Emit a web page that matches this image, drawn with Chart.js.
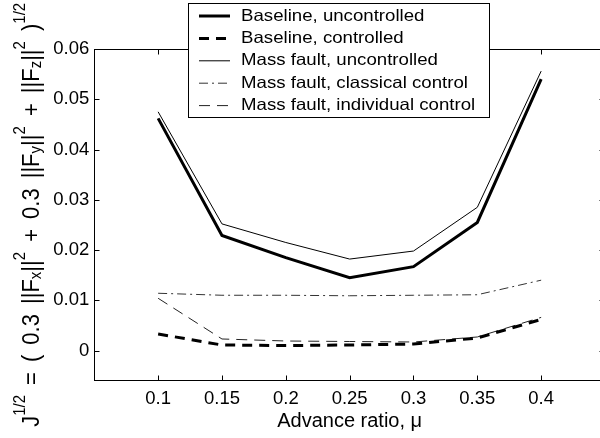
<!DOCTYPE html>
<html>
<head>
<meta charset="utf-8">
<script src="https://cdn.jsdelivr.net/npm/chart.js@4.4.1/dist/chart.umd.min.js"></script>
<style>
html, body { margin: 0; padding: 0; background: #fff; overflow: hidden; }
#wrap { width: 612px; height: 438px; }
</style>
</head>
<body>
<div id="wrap"><canvas id="faultChart" width="612" height="438"></canvas></div>
<script>
// advance ratio values and the five cost curves
var mu = [0.1, 0.15, 0.2, 0.25, 0.3, 0.35, 0.4];
var baseUncontrolled  = [0.0462, 0.0229, 0.0185, 0.0145, 0.0167, 0.0255, 0.0540];
var baseControlled    = [0.0033, 0.0011, 0.0010, 0.0011, 0.0013, 0.0025, 0.0062];
var faultUncontrolled = [0.0475, 0.0252, 0.0215, 0.0182, 0.0198, 0.0285, 0.0556];
var faultClassical    = [0.0114, 0.0110, 0.0110, 0.0109, 0.0110, 0.0111, 0.0140];
var faultIndividual   = [0.0104, 0.0023, 0.0019, 0.0018, 0.0017, 0.0027, 0.0066];

var xTicks = [0.1, 0.15, 0.2, 0.25, 0.3, 0.35, 0.4];
var yTicks = [0, 0.01, 0.02, 0.03, 0.04, 0.05, 0.06];

var seriesNames = [
    'Baseline, uncontrolled',
    'Baseline, controlled',
    'Mass fault, uncontrolled',
    'Mass fault, classical control',
    'Mass fault, individual control'
];

// y label, split into normal / superscript / subscript pieces
var yTitleParts = [
    ['J', 'n'], ['1/2', 'sup'], [' = ( 0.3 ||F', 'n'], ['x', 'sub'], ['||', 'n'], ['2', 'sup'],
    [' + 0.3 ||F', 'n'], ['y', 'sub'], ['||', 'n'], ['2', 'sup'],
    [' + ||F', 'n'], ['z', 'sub'], ['||', 'n'], ['2', 'sup'], [' )', 'n'], ['1/2', 'sup']
];

var FONT = '"Liberation Sans", Arial, Helvetica, sans-serif';

function toPoints(ys) {
    return mu.map(function (x, i) { return { x: x, y: ys[i] }; });
}

function fmt(v) {
    return Number(v.toFixed(4)).toString();
}

var framePlugin = {
    id: 'matlabFrame',
    afterDraw: function (chart) {
        var ctx = chart.ctx;
        var a = chart.chartArea;
        var xs = chart.scales.x, ys = chart.scales.y;
        var l = Math.round(a.left) + 0.5, r = Math.round(a.right) - 0.5;
        var t = Math.round(a.top) + 0.5, b = Math.round(a.bottom) - 0.5;

        ctx.save();
        ctx.strokeStyle = '#000';
        ctx.lineWidth = 1;
        ctx.setLineDash([]);
        ctx.strokeRect(l, t, r - l, b - t);

        // inward ticks on all four sides
        ctx.beginPath();
        yTicks.forEach(function (v) {
            var py = Math.round(ys.getPixelForValue(v)) + 0.5;
            ctx.moveTo(l, py); ctx.lineTo(l + 5, py);
            ctx.moveTo(r, py); ctx.lineTo(r - 5, py);
        });
        xTicks.forEach(function (v) {
            var px = Math.round(xs.getPixelForValue(v)) + 0.5;
            ctx.moveTo(px, b); ctx.lineTo(px, b - 5);
            ctx.moveTo(px, t); ctx.lineTo(px, t + 5);
        });
        ctx.stroke();

        // rotated y title with sub/superscripts
        var size = 22, small = 15;
        var pieces = [];
        var total = 0, spaces = 0;
        yTitleParts.forEach(function (p) {
            var f = (p[1] === 'n' ? size : small) + 'px ' + FONT;
            ctx.font = f;
            p[0].split('').forEach(function (ch) {
                var w = ctx.measureText(ch).width;
                pieces.push({ ch: ch, kind: p[1], font: f, w: w });
                total += w;
                if (ch === ' ') spaces++;
            });
        });
        var target = 424;
        var extra = spaces ? Math.max(0, (target - total) / spaces) : 0;
        ctx.translate(38.5, (a.top + a.bottom) / 2);
        ctx.rotate(-Math.PI / 2);
        ctx.scale(1, 1.1);
        ctx.fillStyle = '#000';
        ctx.textBaseline = 'alphabetic';
        ctx.textAlign = 'left';
        var cx = -(total + extra * spaces) / 2;
        pieces.forEach(function (pc) {
            ctx.font = pc.font;
            var dy = 0;
            if (pc.kind === 'sup') dy = -12;
            if (pc.kind === 'sub') dy = 2.5;
            ctx.fillText(pc.ch, cx, dy);
            cx += pc.w + (pc.ch === ' ' ? extra : 0);
        });
        ctx.restore();

        // legend box in the top middle
        var box = { x: 188.5, y: 3.5, w: 301, h: 114 };
        ctx.save();
        ctx.fillStyle = '#fff';
        ctx.fillRect(box.x, box.y, box.w, box.h);
        ctx.strokeStyle = '#000';
        ctx.lineWidth = 1;
        ctx.strokeRect(box.x, box.y, box.w, box.h);
        chart.data.datasets.forEach(function (ds, i) {
            var ry = 16 + i * 22.4;
            ctx.save();
            ctx.strokeStyle = ds.borderColor;
            ctx.lineWidth = ds.borderWidth;
            ctx.setLineDash(ds.borderDash || []);
            ctx.beginPath();
            ctx.moveTo(199, ry);
            ctx.lineTo(230, ry);
            ctx.stroke();
            ctx.restore();

            ctx.save();
            ctx.fillStyle = '#000';
            ctx.font = '16.5px ' + FONT;
            ctx.textBaseline = 'middle';
            ctx.textAlign = 'left';
            ctx.translate(241, ry);
            ctx.scale(1.13, 1);
            ctx.fillText(ds.label, 0, 0);
            ctx.restore();
        });
        ctx.restore();
    }
};

var ctx = document.getElementById('faultChart').getContext('2d');
var faultChart = new Chart(ctx, {
    type: 'line',
    data: {
        datasets: [{
            label: seriesNames[0],
            data: toPoints(baseUncontrolled),
            borderColor: '#000',
            borderWidth: 3
        }, {
            label: seriesNames[1],
            data: toPoints(baseControlled),
            borderColor: '#000',
            borderWidth: 3,
            borderDash: [10, 7]
        }, {
            label: seriesNames[2],
            data: toPoints(faultUncontrolled),
            borderColor: '#000',
            borderWidth: 1
        }, {
            label: seriesNames[3],
            data: toPoints(faultClassical),
            borderColor: '#333',
            borderWidth: 1,
            borderDash: [9, 4, 2, 4]
        }, {
            label: seriesNames[4],
            data: toPoints(faultIndividual),
            borderColor: '#222',
            borderWidth: 1,
            borderDash: [11, 7]
        }]
    },
    options: {
        responsive: false,
        animation: false,
        layout: { padding: { top: 49, right: 7, left: 0, bottom: 0 } },
        elements: {
            point: { radius: 0, hoverRadius: 0 },
            line: { tension: 0, fill: false, borderCapStyle: 'butt' }
        },
        plugins: {
            legend: { display: false },
            tooltip: { enabled: false }
        },
        scales: {
            x: {
                type: 'linear',
                min: 0.05,
                max: 0.45,
                grid: { display: false, drawTicks: false },
                border: { display: false },
                afterBuildTicks: function (axis) {
                    axis.ticks = xTicks.map(function (v) { return { value: v }; });
                },
                afterFit: function (axis) { axis.height = 57.3; },
                ticks: {
                    color: '#000',
                    padding: 7,
                    maxRotation: 0,
                    font: { family: FONT, size: 18.5 },
                    callback: function (v) { return fmt(v); }
                },
                title: {
                    display: true,
                    text: 'Advance ratio, μ',
                    color: '#000',
                    font: { family: FONT, size: 20 },
                    padding: { top: 0, bottom: 4.5 }
                }
            },
            y: {
                min: -0.006,
                max: 0.06,
                grid: { display: false, drawTicks: false },
                border: { display: false },
                afterBuildTicks: function (axis) {
                    axis.ticks = yTicks.map(function (v) { return { value: v }; });
                },
                afterFit: function (axis) { axis.width = 94.3; },
                ticks: {
                    color: '#000',
                    padding: 5,
                    font: { family: FONT, size: 18.5 },
                    callback: function (v) { return fmt(v); }
                }
            }
        }
    },
    plugins: [framePlugin]
});
</script>
</body>
</html>
